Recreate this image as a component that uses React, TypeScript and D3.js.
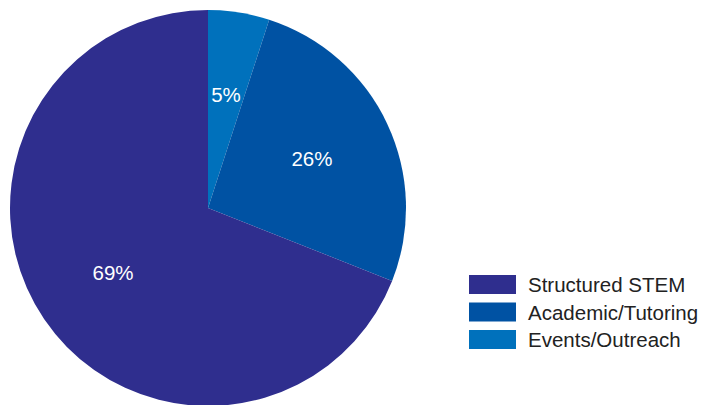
import React from 'react'
import * as d3 from 'd3'

const categories = ['Events/Outreach', 'Academic/Tutoring', 'Structured STEM']
const shares = [5, 26, 69]
const colors = ['#0071bc', '#0052a3', '#2f2e8e']
const legendOrder = ['Structured STEM', 'Academic/Tutoring', 'Events/Outreach']

const W = 713
const H = 405
const cx = 208
const cy = 208
const radius = 198

export default function App() {
  const data = categories.map((c, i) => ({ name: c, value: shares[i], color: colors[i] }))
  const pie = d3.pie<any>().value(d => d.value).sort(null)
  const arcs = pie(data)
  const arc = d3.arc<any>().innerRadius(0).outerRadius(radius)
  const labelArc = d3.arc<any>().innerRadius(radius * 0.58).outerRadius(radius * 0.58)

  const colorOf = d3.scaleOrdinal<string, string>().domain(categories).range(colors)
  const legendY = d3.scalePoint<string>().domain(legendOrder).range([275, 330])

  return (
    <svg width={W} height={H} style={{ position: 'absolute', left: 0, top: 0 }}
      fontFamily="'Liberation Sans', Arial, Helvetica, sans-serif">
      <rect width={W} height={H} fill="#fff" />
      <g transform={`translate(${cx},${cy})`}>
        {arcs.map(a => (
          <path key={a.data.name} d={arc(a) || ''} fill={a.data.color} />
        ))}
        {arcs.map(a => {
          const [x, y] = labelArc.centroid(a)
          return (
            <text key={a.data.name} x={x} y={y} dy="0.35em" textAnchor="middle"
              fill="#fff" fontSize={20.5}>{a.data.value}%</text>
          )
        })}
      </g>
      <g>
        {legendOrder.map(name => (
          <g key={name} transform={`translate(469,${legendY(name)})`}>
            <rect width={47} height={19} fill={colorOf(name)} />
            <text x={59} y={9.5} dy="0.38em" fontSize={20.5} fill="#222">{name}</text>
          </g>
        ))}
      </g>
    </svg>
  )
}
